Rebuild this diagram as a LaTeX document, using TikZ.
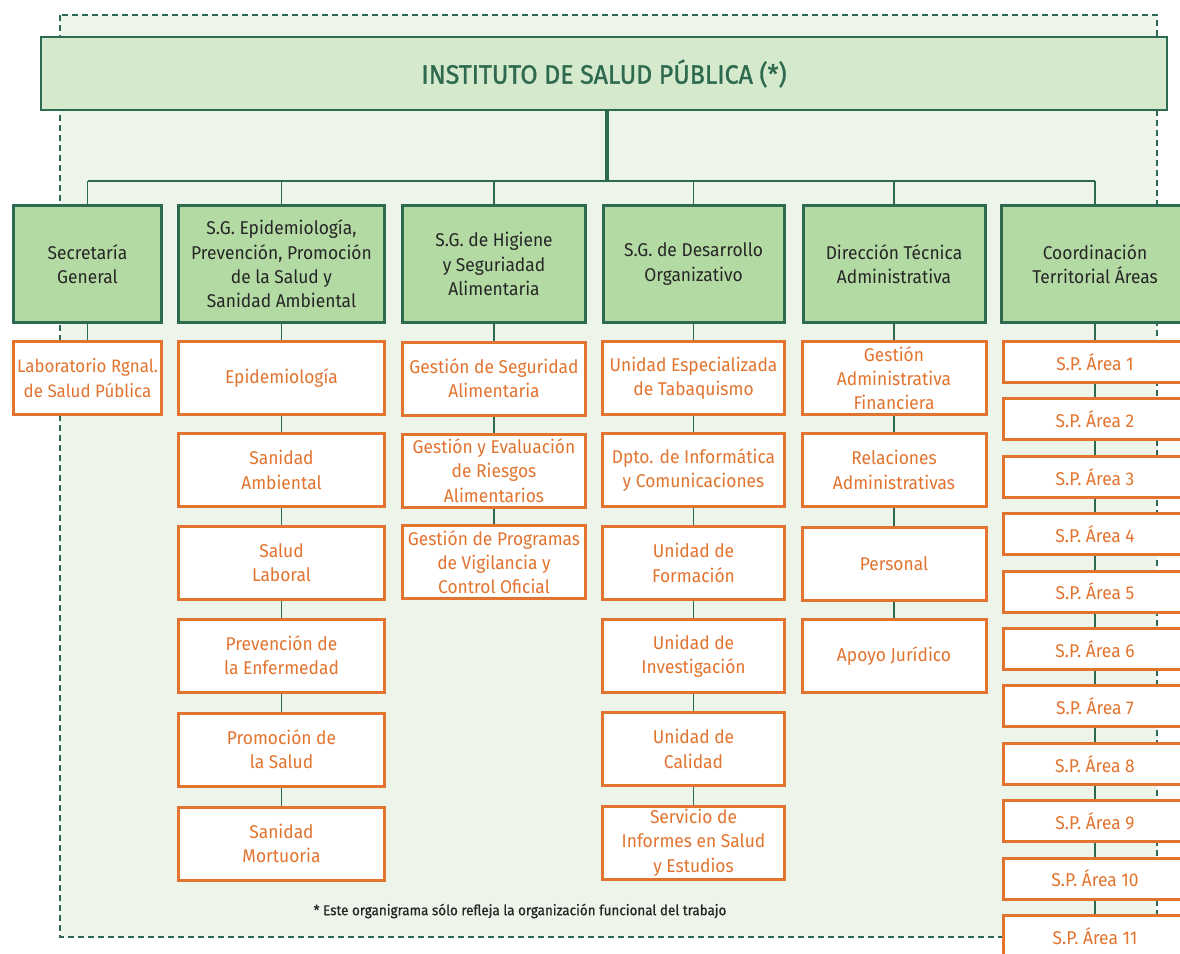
\documentclass[tikz,border=0pt]{standalone}
\usepackage{fontspec}
\setmainfont{Fira Sans}[FakeStretch=0.94]
\newfontfamily\titlefont{Fira Sans}[FakeStretch=0.94, FakeBold=1.2]
\newfontfamily\notefont{Fira Sans}[FakeStretch=0.94, FakeBold=0.8]
\definecolor{dkgreen}{HTML}{2E6A50}
\definecolor{topfill}{HTML}{D5EACC}
\definecolor{lvfill}{HTML}{B3DAA3}
\definecolor{bgfill}{HTML}{EDF5EA}
\definecolor{orng}{HTML}{E2742F}
\definecolor{txtdark}{HTML}{262626}
\begin{document}
\begin{tikzpicture}[x=1pt,y=-1pt,
  topbox/.style={draw=dkgreen, line width=2pt, fill=topfill, minimum width=1126pt, minimum height=73pt, inner sep=0pt, text=dkgreen, font=\titlefont\fontsize{26.5}{30}\selectfont},
  lvbox/.style={draw=dkgreen, line width=3pt, fill=lvfill, minimum height=117pt, inner sep=0pt, align=center, text=txtdark, font=\fontsize{18.5}{24.3}\selectfont},
  obox/.style={draw=orng, line width=3pt, fill=white, minimum height=73pt, inner sep=0pt, align=center, text=orng, font=\fontsize{18.5}{24.3}\selectfont},
  spbox/.style={obox, minimum height=41pt, minimum width=184pt},
  conn/.style={draw=dkgreen, line width=1.6pt},
  trunk/.style={draw=dkgreen, line width=3.8pt},
  note/.style={text=txtdark, font=\notefont\fontsize{14.3}{16}\selectfont, inner sep=0pt}]
\clip (0,0) rectangle (1180,953);
\fill[white] (0,0) rectangle (1180,953);
% dashed frame
\draw[fill=bgfill, draw=dkgreen, line width=1.3pt, dash pattern=on 6pt off 4pt] (60,15) rectangle (1157,937);

% top
\node[topbox] (top) at (604,73.5) {INSTITUTO DE SALUD PÚBLICA (*)};
\coordinate (bus) at (607,181);

% level 2
\node[lvbox, minimum width=148pt] (l1) at (87.5,264) {Secretaría\\General};
\node[lvbox, minimum width=206pt] (l2) at (281.5,264) {S.G. Epidemiología,\\Prevención, Promoción\\de la Salud y\\Sanidad Ambiental};
\node[lvbox, minimum width=183pt] (l3) at (494,264) {S.G. de Higiene\\y Seguriadad\\Alimentaria};
\node[lvbox, minimum width=181pt] (l4) at (693.5,264) {S.G. de Desarrollo\\Organizativo};
\node[lvbox, minimum width=182pt] (l5) at (894,264) {Dirección Técnica\\Administrativa};
\node[lvbox, minimum width=187pt] (l6) at (1095,264) {Coordinación\\Territorial Áreas};

% column 1
\node[obox, minimum width=148pt, font=\fontsize{18}{24.3}\selectfont] (a1) at (87.5,378) {Laboratorio Rgnal.\\de Salud Pública};

% column 2
\node[obox, minimum width=206pt] (b1) at (281.5,378) {Epidemiología};
\node[obox, minimum width=206pt] (b2) at (281.5,470) {Sanidad\\Ambiental};
\node[obox, minimum width=206pt] (b3) at (281.5,563) {Salud\\Laboral};
\node[obox, minimum width=206pt] (b4) at (281.5,655.5) {Prevención de\\la Enfermedad};
\node[obox, minimum width=206pt] (b5) at (281.5,749.5) {Promoción de\\la Salud};
\node[obox, minimum width=206pt] (b6) at (281.5,843.5) {Sanidad\\Mortuoria};

% column 3
\node[obox, minimum width=183pt] (c1) at (494,378.5) {Gestión de Seguridad\\Alimentaria};
\node[obox, minimum width=183pt] (c2) at (494,470.5) {Gestión y Evaluación\\de Riesgos\\Alimentarios};
\node[obox, minimum width=183pt] (c3) at (494,562) {Gestión de Programas\\de Vigilancia y\\Control Oficial};

% column 4
\node[obox, minimum width=182pt] (d1) at (693.5,378) {Unidad Especializada\\de Tabaquismo};
\node[obox, minimum width=182pt] (d2) at (693.5,470) {Dpto. de Informática\\y Comunicaciones};
\node[obox, minimum width=182pt] (d3) at (693.5,563) {Unidad de\\Formación};
\node[obox, minimum width=182pt] (d4) at (693.5,656) {Unidad de\\Investigación};
\node[obox, minimum width=182pt] (d5) at (693.5,749) {Unidad de\\Calidad};
\node[obox, minimum width=182pt] (d6) at (693.5,842.5) {Servicio de\\Informes en Salud\\y Estudios};

% column 5
\node[obox, minimum width=184pt] (e1) at (894,378) {Gestión\\Administrativa\\Financiera};
\node[obox, minimum width=184pt] (e2) at (894,470) {Relaciones\\Administrativas};
\node[obox, minimum width=184pt] (e3) at (894,564) {Personal};
\node[obox, minimum width=184pt] (e4) at (894,656) {Apoyo Jurídico};

% column 6
\node[spbox] (f1) at (1095,362) {S.P. Área 1};
\node[spbox] (f2) at (1095,419.4) {S.P. Área 2};
\node[spbox] (f3) at (1095,476.8) {S.P. Área 3};
\node[spbox] (f4) at (1095,534.2) {S.P. Área 4};
\node[spbox] (f5) at (1095,591.6) {S.P. Área 5};
\node[spbox] (f6) at (1095,649) {S.P. Área 6};
\node[spbox] (f7) at (1095,706.4) {S.P. Área 7};
\node[spbox] (f8) at (1095,763.8) {S.P. Área 8};
\node[spbox] (f9) at (1095,821.2) {S.P. Área 9};
\node[spbox] (f10) at (1095,878.6) {S.P. Área 10};
\node[spbox] (f11) at (1095,936) {S.P. Área 11};

% footnote
\node[note] (fn) at (520,911) {* Este organigrama sólo refleja la organización funcional del trabajo};

% connectors
\draw[trunk] (top.south -| bus) -- (bus);
\draw[conn] (l1.north |- bus) -- (l6.north |- bus);
\foreach \n in {l1,l2,l3,l4,l5,l6} \draw[conn] (\n.north |- bus) -- (\n.north);
\draw[conn] (l1.south) -- (a1.north);
\draw[conn] (l2.south) -- (b1.north);
\draw[conn] (l3.south) -- (c1.north);
\draw[conn] (l4.south) -- (d1.north);
\draw[conn] (l5.south) -- (e1.north);
\draw[conn] (l6.south) -- (f1.north);
\foreach \a/\b in {b1/b2,b2/b3,b3/b4,b4/b5,b5/b6,c1/c2,c2/c3,d1/d2,d2/d3,d3/d4,d4/d5,d5/d6,e1/e2,e2/e3,e3/e4,f1/f2,f2/f3,f3/f4,f4/f5,f5/f6,f6/f7,f7/f8,f8/f9,f9/f10,f10/f11}
  \draw[conn] (\a.south) -- (\b.north);
\end{tikzpicture}
\end{document}
